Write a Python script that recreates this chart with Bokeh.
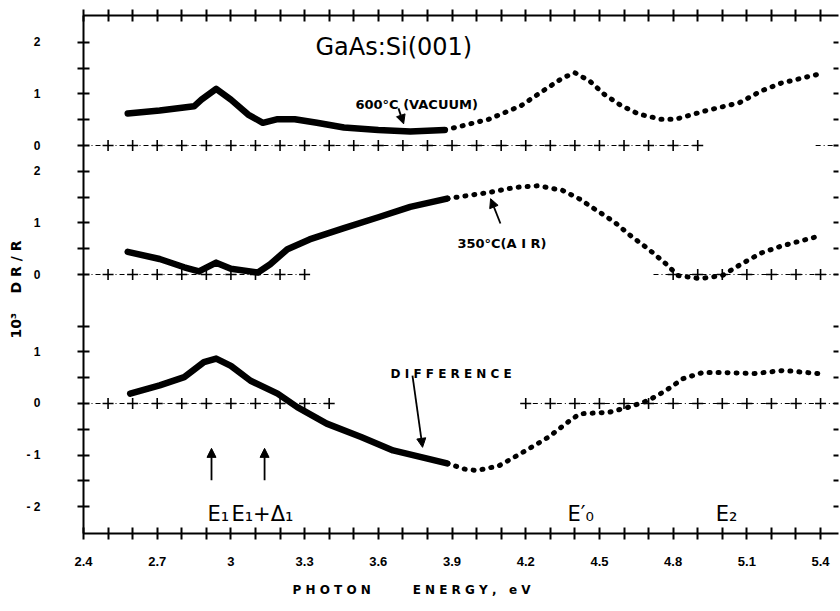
import numpy as np
from bokeh.plotting import figure
from bokeh.models import (LinearAxis, FixedTicker, CustomJSTickFormatter, Label,
                          Arrow, NormalHead, Title)
from bokeh.embed import file_html
from bokeh.resources import INLINE

# ---------------- data ----------------
# panel offsets (stacked panels share one frame)
OFF_TOP = 5.0
OFF_MID = 2.5
OFF_BOT = 0.0

# 600 C (vacuum) spectrum: dense (solid-looking) part, then dotted part
vac_solid_e = [2.58, 2.71, 2.85, 2.88, 2.94, 3.00, 3.07, 3.13, 3.19, 3.26, 3.35, 3.46, 3.60, 3.73, 3.87]
vac_solid_v = [0.62, 0.68, 0.76, 0.89, 1.10, 0.89, 0.60, 0.44, 0.51, 0.51, 0.44, 0.35, 0.30, 0.27, 0.30]
vac_dot_e = [3.87, 3.94, 4.05, 4.11, 4.18, 4.28, 4.35, 4.40, 4.46, 4.52, 4.59, 4.66, 4.75, 4.81, 4.93, 5.07, 5.16, 5.24, 5.39]
vac_dot_v = [0.30, 0.38, 0.51, 0.63, 0.77, 1.09, 1.31, 1.41, 1.25, 0.99, 0.77, 0.61, 0.51, 0.51, 0.67, 0.83, 1.06, 1.21, 1.38]

# 350 C (air) spectrum
air_solid_e = [2.58, 2.71, 2.81, 2.87, 2.94, 3.00, 3.11, 3.16, 3.23, 3.32, 3.46, 3.60, 3.73, 3.88]
air_solid_v = [0.44, 0.30, 0.14, 0.06, 0.23, 0.11, 0.04, 0.20, 0.49, 0.68, 0.90, 1.11, 1.31, 1.47]
air_dot_e = [3.88, 4.05, 4.16, 4.25, 4.35, 4.42, 4.48, 4.56, 4.63, 4.70, 4.77, 4.82, 4.91, 5.00, 5.08, 5.16, 5.24, 5.39]
air_dot_v = [1.47, 1.59, 1.69, 1.72, 1.63, 1.46, 1.27, 1.02, 0.74, 0.49, 0.21, -0.02, -0.08, -0.02, 0.21, 0.42, 0.55, 0.74]

# difference spectrum
dif_solid_e = [2.59, 2.71, 2.81, 2.89, 2.94, 3.00, 3.08, 3.19, 3.27, 3.39, 3.53, 3.66, 3.80, 3.88]
dif_solid_v = [0.19, 0.35, 0.51, 0.80, 0.87, 0.73, 0.44, 0.19, -0.07, -0.39, -0.65, -0.91, -1.07, -1.16]
dif_dot_e = [3.88, 3.95, 4.00, 4.09, 4.18, 4.29, 4.38, 4.42, 4.54, 4.62, 4.70, 4.77, 4.84, 4.92, 5.00, 5.13, 5.25, 5.39]
dif_dot_v = [-1.16, -1.27, -1.30, -1.21, -0.97, -0.66, -0.33, -0.20, -0.17, -0.07, 0.06, 0.25, 0.48, 0.60, 0.60, 0.58, 0.64, 0.58]

# axis ticks
x_major = [2.4, 2.7, 3.0, 3.3, 3.6, 3.9, 4.2, 4.5, 4.8, 5.1, 5.4]
x_minor = [2.5, 2.6, 2.8, 2.9, 3.1, 3.2, 3.4, 3.5, 3.7, 3.8, 4.0, 4.1, 4.3, 4.4,
           4.6, 4.7, 4.9, 5.0, 5.2, 5.3]
y_ticks = [-2.0, -1.5, -1.0, -0.5, 0.0, 0.5, 1.0, 1.5, 2.5, 3.0, 3.5, 4.0, 4.5,
           5.0, 5.5, 6.0, 6.5, 7.0]

# zero baselines (segments drawn in the original) and their cross marks
top_zero_segs = [(2.4, 4.92), (5.38, 5.48)]
top_zero_marks = [2.5, 2.6, 2.7, 2.8, 2.9, 3.0, 3.1, 3.2, 3.3, 3.4, 3.5, 3.6, 3.7, 3.8,
                  3.9, 4.0, 4.1, 4.2, 4.3, 4.4, 4.5, 4.6, 4.7, 4.8, 4.9]
mid_zero_segs = [(2.4, 3.32), (4.72, 5.48)]
mid_zero_marks = [2.5, 2.6, 2.7, 2.8, 2.9, 3.0, 3.1, 3.2, 3.3, 4.8, 4.9, 5.0, 5.1, 5.2, 5.3, 5.4]
bot_zero_segs = [(2.4, 3.42), (4.18, 5.48)]
bot_zero_marks = [2.5, 2.6, 2.7, 2.8, 2.9, 3.0, 3.1, 3.2, 3.3, 3.4, 4.2, 4.3, 4.4, 4.5,
                  4.6, 4.7, 4.8, 4.9, 5.0, 5.1, 5.2, 5.3, 5.4]

NB = "\u00a0"
x_title = "P H O T O N" + NB * 10 + "E N E R G Y ," + NB * 3 + "e V"
y_title = "10³" + NB * 4 + "D R / R"

# ---------------- figure ----------------
p = figure(width=840, height=611, x_range=(2.4, 5.473), y_range=(-2.52, 7.52),
           output_backend="svg", toolbar_location=None, title=None,
           min_border_left=83, min_border_right=2, min_border_top=15, min_border_bottom=78,
           x_axis_location=None, y_axis_location=None)
p.xgrid.grid_line_color = None
p.ygrid.grid_line_color = None
p.outline_line_color = None
p.background_fill_color = "white"
p.border_fill_color = "white"

TICK_FONT = "Liberation Sans"

def style_axis(ax, tin, tout):
    ax.axis_line_width = 2
    ax.axis_line_color = "black"
    ax.major_tick_line_width = 2
    ax.minor_tick_line_width = 2
    ax.major_tick_in = tin
    ax.major_tick_out = tout
    ax.minor_tick_in = tin
    ax.minor_tick_out = tout
    ax.major_label_text_font = TICK_FONT
    ax.major_label_text_font_style = "bold"
    ax.major_label_text_font_size = "12px"
    ax.major_label_text_color = "black"

xfmt = CustomJSTickFormatter(code="return String(Math.round(tick*10)/10);")
bottom = LinearAxis(ticker=FixedTicker(ticks=x_major, minor_ticks=x_minor), formatter=xfmt)
style_axis(bottom, 6, 6)
bottom.major_label_text_font_size = "13px"
bottom.major_label_standoff = 17
p.add_layout(bottom, "below")

top = LinearAxis(ticker=FixedTicker(ticks=x_major, minor_ticks=x_minor),
                 formatter=CustomJSTickFormatter(code="return '';"))
style_axis(top, 6, 6)
top.major_label_text_font_size = "0px"
top.major_label_standoff = 0
p.add_layout(top, "above")

yfmt = CustomJSTickFormatter(code="""
let v = tick;
if (v > 4.75) { v = v - 5.0; } else if (v > 2.25) { v = v - 2.5; }
const r = Math.round(v);
if (Math.abs(v - r) > 1e-6) { return ''; }
return r < 0 ? '- ' + String(-r) : String(r);
""")
left = LinearAxis(ticker=FixedTicker(ticks=y_ticks), formatter=yfmt)
style_axis(left, 6, 6)
left.major_label_standoff = 37
p.add_layout(left, "left")

right = LinearAxis(ticker=FixedTicker(ticks=y_ticks),
                   formatter=CustomJSTickFormatter(code="return '';"))
style_axis(right, 5, 0)
right.axis_line_color = None
right.major_label_text_font_size = "0px"
right.major_label_standoff = 0
p.add_layout(right, "right")

# axis titles as side titles (not clipped by the frame)
p.add_layout(Title(text=x_title, align="left", offset=209, standoff=24,
                   text_font="DejaVu Sans", text_font_size="12px",
                   text_font_style="bold", text_color="black"), "below")
p.add_layout(Title(text=y_title, align="left", offset=195, standoff=0,
                   text_font="DejaVu Sans", text_font_size="14px",
                   text_font_style="bold", text_color="black"), "left")

# zero baselines
for segs, marks, off in [(top_zero_segs, top_zero_marks, OFF_TOP),
                         (mid_zero_segs, mid_zero_marks, OFF_MID),
                         (bot_zero_segs, bot_zero_marks, OFF_BOT)]:
    for a, b in segs:
        p.line([a, b], [off, off], line_color="black", line_width=1.2, line_dash="5 3 1 3")
    p.scatter(marks, [off] * len(marks), marker="cross", size=11, line_color="black",
              line_width=1.6)

# curves
for se, sv, de, dv, off in [(vac_solid_e, vac_solid_v, vac_dot_e, vac_dot_v, OFF_TOP),
                            (air_solid_e, air_solid_v, air_dot_e, air_dot_v, OFF_MID),
                            (dif_solid_e, dif_solid_v, dif_dot_e, dif_dot_v, OFF_BOT)]:
    p.line(se, [v + off for v in sv], line_color="black", line_width=6.5,
           line_join="round", line_cap="round")
    p.line(de, [v + off for v in dv], line_color="black", line_width=5,
           line_dash="1 8", line_cap="round", line_join="round")

# ---------------- annotations ----------------
def lab(x, y, text, size, style="bold", font="DejaVu Sans"):
    p.add_layout(Label(x=x, y=y, text=text, text_font=font, text_font_size=size,
                       text_font_style=style, text_color="black",
                       text_align="left", text_baseline="alphabetic"))

lab(3.344, 6.90, "GaAs:Si(001)", "24px", style="normal")
lab(3.507, 5.80, "600°C  (VACUUM)", "13px")
lab(3.922, 3.10, "350°C(A I R)", "13px")
lab(3.650, 0.58, "D I F F E R E N C E", "12px")
lab(2.905, -2.14, "E₁", "21px", style="normal")
lab(3.002, -2.14, "E₁+Δ₁", "21px", style="normal")
lab(4.370, -2.14, "E′₀", "21px", style="normal")
lab(4.973, -2.14, "E₂", "21px", style="normal")

def arrow(x0, y0, x1, y1):
    p.add_layout(Arrow(x_start=x0, y_start=y0, x_end=x1, y_end=y1, line_width=1.8,
                       line_color="black",
                       end=NormalHead(size=9, fill_color="black", line_color="black")))

arrow(2.921, -1.49, 2.921, -0.87)
arrow(3.137, -1.49, 3.137, -0.87)
arrow(3.739, 0.54, 3.780, -0.85)
arrow(4.097, 3.488, 4.057, 3.97)
arrow(3.682, 5.72, 3.703, 5.42)

open("out.html", "w").write(file_html(p, INLINE))
